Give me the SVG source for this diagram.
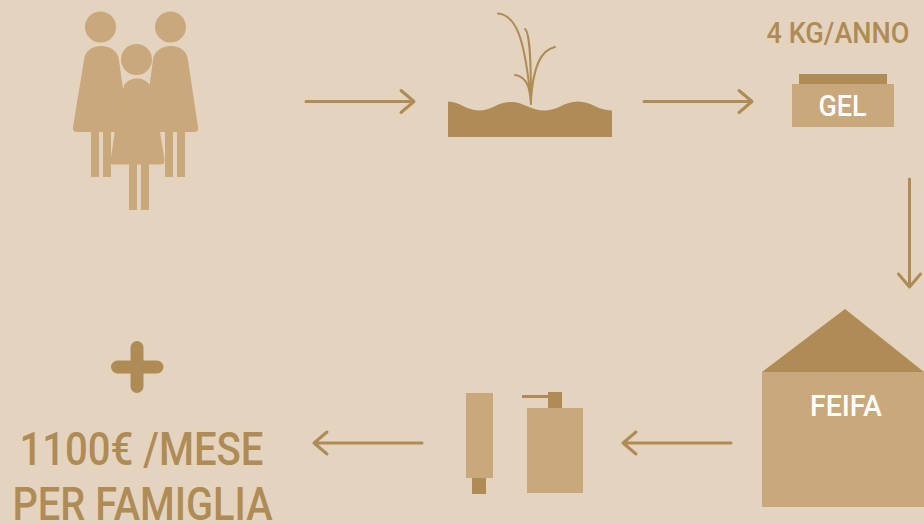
<svg xmlns="http://www.w3.org/2000/svg" width="924" height="524" viewBox="0 0 924 524">
<style>
.l{fill:#c9a87b}
.d{fill:#af8b55}
.a{fill:none;stroke:#af8b55;stroke-width:3;stroke-linecap:round;stroke-linejoin:round}
.s{fill:none;stroke:#af8b55;stroke-width:2;stroke-linecap:round}
text{font-family:"Roboto","Liberation Sans",sans-serif;font-weight:500;text-anchor:middle}
.t{fill:#af8b55}
.w{fill:#ffffff}
</style>
<rect width="924" height="524" fill="#e4d4bf"/>
<g id="connectors">
<path class="a" d="M306 101.500H414M401 90.500L414 101.500L401 112.500"/>
<path class="a" d="M644 101.500H752M739 90.500L752 101.500L739 112.500"/>
<path class="a" d="M909.500 179V287M898.500 274L909.500 287L920.500 274"/>
<path class="a" d="M731 443H623M636 432L623 443L636 454"/>
<path class="a" d="M422 443H314M327 432L314 443L327 454"/>
</g>
<g id="family">
<g id="person-left" class="l">
<circle cx="100.500" cy="27" r="15.500"/>
<path d="M84 60C85 51 92 46 101 46C110 46 118 51 119 60L128 126Q129 132 123 132H111V177H103V132H99V177H91V132H77Q72 132 73 127Z"/>
</g>
<g id="person-right" class="l">
<circle cx="170.500" cy="27" r="15.500"/>
<path d="M153 60C154 51 162 46 171 46C180 46 187 51 188 60L198 127Q199 132 194 132H185V177H177V132H173V177H165V132H149Q143 132 144 126Z"/>
</g>
<g id="person-child" class="l">
<circle cx="136.500" cy="59.500" r="15.500"/>
<path d="M124 85C128 80 132 78.500 137 78.500C142 78.500 146 80 150 85L160 132L164.500 160Q165 164.500 160 164.500H149V210H141V164.500H137V210H129V164.500H113Q110 164.500 110.500 161L115 130Z"/>
</g>
</g>
<g id="plant">
<path class="d" d="M448 101.500C460 101.500 466 110.500 479 110.500C492 110.500 497 102 511 102C524 102 530 110.500 545 110.500C558 110.500 564 101.500 578 101.500C592 101.500 597 110.500 612 110.500V137H448Z"/>
<path class="s" d="M498 13.500C515 15 525 35 531 104"/>
<path class="s" d="M525 29C530 33 531 60 531 104"/>
<path class="s" d="M555 47C540 50 533 68 531 100"/>
<path class="s" d="M515 75C523 76 529 83 530 95"/>
</g>
<g id="gel">
<text class="t" x="838" y="43" font-size="30" textLength="143" lengthAdjust="spacingAndGlyphs">4 KG/ANNO</text>
<rect class="d" x="799" y="74" width="88" height="10"/>
<rect class="l" x="792" y="84" width="102" height="43"/>
<text class="w" x="842.500" y="116" font-size="30" textLength="48" lengthAdjust="spacingAndGlyphs">GEL</text>
</g>
<g id="feifa">
<path class="d" d="M762 372L845 309L924 372Z"/>
<rect class="l" x="762" y="372" width="162" height="135"/>
<text class="w" x="846" y="416" font-size="30" textLength="72" lengthAdjust="spacingAndGlyphs">FEIFA</text>
</g>
<g id="products">
<rect class="l" x="466" y="393" width="27" height="85"/>
<rect class="d" x="472" y="478" width="14" height="16"/>
<rect class="l" x="527" y="408" width="56" height="85"/>
<rect class="d" x="548" y="392" width="14" height="16"/>
<rect class="d" x="522" y="395" width="26" height="3"/>
</g>
<g id="income">
<path class="a" style="stroke-width:13" d="M137 347.500V386.500M117.500 367H157"/>
<text class="t" x="141.500" y="465" font-size="47" textLength="244" lengthAdjust="spacingAndGlyphs">1100€ /MESE</text>
<text class="t" x="142.500" y="520" font-size="47" textLength="260" lengthAdjust="spacingAndGlyphs">PER FAMIGLIA</text>
</g>
</svg>
